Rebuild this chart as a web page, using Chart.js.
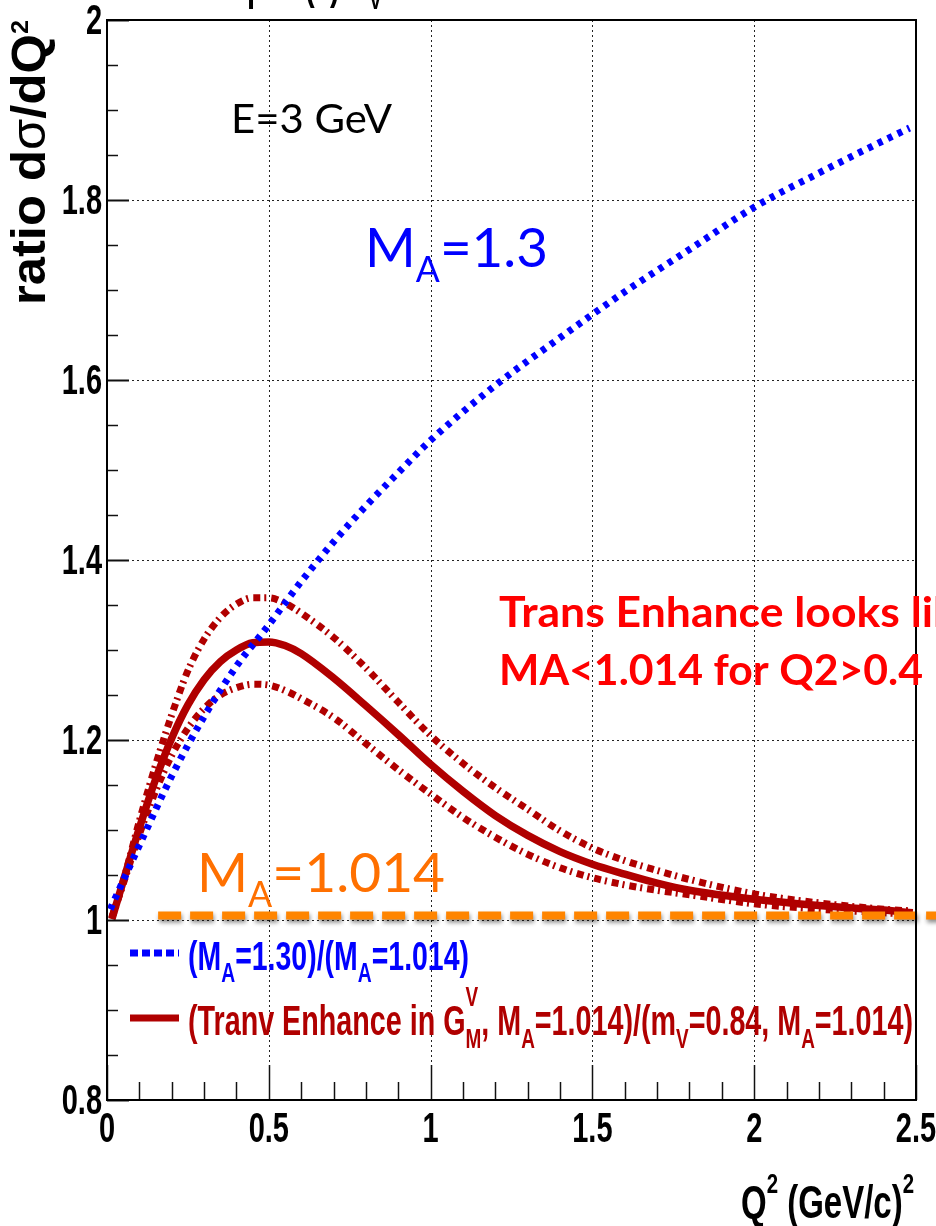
<!DOCTYPE html>
<html>
<head>
<meta charset="utf-8">
<script src="https://cdn.jsdelivr.net/npm/chart.js@4.4.1/dist/chart.umd.min.js"></script>
<style>
  html, body { margin: 0; padding: 0; background: #ffffff; overflow: hidden; }
  canvas { display: block; }
</style>
</head>
<body>
<canvas id="ratioChart" width="936" height="1226"></canvas>
<script>
// Ratio of dσ/dQ² at E = 3 GeV, relative to M_A = 1.014

// M_A = 1.30 over M_A = 1.014
const q2MA130 = [0.01, 0.1, 0.2, 0.3, 0.4, 0.5, 0.6, 0.7, 0.8, 0.9, 1.0, 1.2, 1.4, 1.6, 1.8, 2.0, 2.2, 2.4, 2.48];
const ratioMA130 = [1.012, 1.083, 1.160, 1.226, 1.282, 1.328, 1.376, 1.420, 1.460, 1.497, 1.533, 1.594, 1.647, 1.698, 1.745, 1.792, 1.830, 1.866, 1.880];

// transverse enhancement in G_M^V, central value and band edges
const q2Tranv = [0.015, 0.05, 0.1, 0.15, 0.2, 0.25, 0.3, 0.35, 0.4, 0.45, 0.5, 0.55, 0.6, 0.7, 0.8, 0.9, 1.0, 1.1, 1.2, 1.3, 1.4, 1.5, 1.6, 1.7, 1.8, 2.0, 2.2, 2.4, 2.49];
const ratioTranv = [1.001, 1.043, 1.102, 1.156, 1.202, 1.239, 1.267, 1.287, 1.300, 1.308, 1.309, 1.305, 1.296, 1.269, 1.238, 1.206, 1.173, 1.143, 1.116, 1.094, 1.076, 1.062, 1.051, 1.041, 1.033, 1.023, 1.016, 1.011, 1.008];
const ratioTranvUpper = [1.003, 1.043, 1.110, 1.172, 1.228, 1.277, 1.312, 1.336, 1.351, 1.358, 1.358, 1.352, 1.341, 1.314, 1.280, 1.242, 1.205, 1.174, 1.147, 1.123, 1.099, 1.080, 1.066, 1.055, 1.045, 1.029, 1.019, 1.012, 1.010];
const ratioTranvLower = [1.002, 1.040, 1.095, 1.143, 1.183, 1.213, 1.235, 1.250, 1.258, 1.262, 1.261, 1.255, 1.246, 1.225, 1.196, 1.167, 1.140, 1.114, 1.092, 1.073, 1.058, 1.047, 1.039, 1.033, 1.028, 1.018, 1.012, 1.008, 1.006];

// reference level M_A = 1.014
const q2MA1014 = [0.158, 2.62];
const ratioMA1014 = [1.005, 1.005];

// axis ticks
const xTickValues = [0, 0.5, 1, 1.5, 2, 2.5];
const xTickLabels = ['0', '0.5', '1', '1.5', '2', '2.5'];
const yTickValues = [0.8, 1, 1.2, 1.4, 1.6, 1.8, 2];
const yTickLabels = ['0.8', '1', '1.2', '1.4', '1.6', '1.8', '2'];
const xGridValues = [0.5, 1, 1.5, 2];
const yGridValues = [1, 1.2, 1.4, 1.6, 1.8];

const RED = '#b00000';
const BLUE = '#0000ff';
const ORANGE_LINE = '#ff8500';
const ORANGE_TEXT = '#ff7000';

const toXY = (xs, ys) => xs.map((x, i) => ({ x: x, y: ys[i] }));

// ---------- rich text (sub/superscripts, optional horizontal squeeze) ----------
function layoutRich(ctx, segs, o) {
  const fam = o.family;
  const items = [];
  let w = 0;
  for (const s of segs) {
    if (typeof s === 'string' || s.t !== undefined) {
      const t = typeof s === 'string' ? s : s.t;
      const wt = (typeof s === 'object' && s.weight) ? s.weight : o.weight;
      const font = `${wt} ${o.size}px ${fam}`;
      ctx.font = font;
      items.push({ t: t, x: w, dy: 0, font: font });
      w += ctx.measureText(t).width;
    } else {
      const small = o.size * (s.scale || o.subScale || 0.66);
      const font = `${o.weight} ${small}px ${fam}`;
      ctx.font = font;
      let mw = 0;
      if (s.sup !== undefined) {
        items.push({ t: s.sup, x: w, dy: -o.size * (s.rise !== undefined ? s.rise : (o.supRise || 0.45)), font: font });
        mw = Math.max(mw, ctx.measureText(s.sup).width);
      }
      if (s.sub !== undefined) {
        items.push({ t: s.sub, x: w, dy: o.size * (s.drop !== undefined ? s.drop : (o.subDrop || 0.3)), font: font });
        mw = Math.max(mw, ctx.measureText(s.sub).width);
      }
      w += mw;
    }
  }
  return { items: items, w: w };
}

function richScale(ctx, segs, o) {
  const lay = layoutRich(ctx, segs, o);
  return o.width / lay.w;
}

function drawRich(ctx, segs, o) {
  const lay = layoutRich(ctx, segs, o);
  const sx = o.width ? o.width / lay.w : (o.sx || 1);
  const total = lay.w * sx;
  let x0 = o.x;
  if (o.align === 'right') x0 = o.x - total;
  else if (o.align === 'center') x0 = o.x - total / 2;
  ctx.save();
  ctx.fillStyle = o.color;
  ctx.textAlign = 'left';
  ctx.textBaseline = 'alphabetic';
  ctx.translate(x0, o.y);
  if (o.rotate) ctx.rotate(o.rotate);
  ctx.scale(sx, 1);
  for (const it of lay.items) {
    ctx.font = it.font;
    ctx.fillText(it.t, it.x, it.dy);
  }
  ctx.restore();
}

// ---------- frame, grid, ticks, labels, legend and notes ----------
const LABEL_FONT = '"Liberation Sans", Arial, sans-serif';
const NOTE_FONT = 'Lato, "Open Sans", sans-serif';
const LABEL_SX = 0.69;

const rootStyle = {
  id: 'rootStyle',
  beforeDatasetsDraw(chart) {
    const ctx = chart.ctx;
    const xs = chart.scales.x, ys = chart.scales.y;
    const a = chart.chartArea;
    ctx.save();
    ctx.strokeStyle = '#222222';
    ctx.lineWidth = 1;
    ctx.setLineDash([2, 3]);
    for (const v of xGridValues) {
      const px = Math.round(xs.getPixelForValue(v)) + 0.5;
      ctx.beginPath(); ctx.moveTo(px, a.top); ctx.lineTo(px, a.bottom); ctx.stroke();
    }
    for (const v of yGridValues) {
      const py = Math.round(ys.getPixelForValue(v)) + 0.5;
      ctx.beginPath(); ctx.moveTo(a.left, py); ctx.lineTo(a.right, py); ctx.stroke();
    }
    ctx.restore();
  },
  beforeDatasetDraw(chart, args) {
    if (args.index === 0) {
      const ctx = chart.ctx;
      ctx.save();
      ctx.shadowColor = 'rgba(0,0,0,0.45)';
      ctx.shadowBlur = 4;
      ctx.shadowOffsetX = 1;
      ctx.shadowOffsetY = 3;
    }
  },
  afterDatasetDraw(chart, args) {
    if (args.index === 0) chart.ctx.restore();
  },
  afterDatasetsDraw(chart) {
    const ctx = chart.ctx;
    const xs = chart.scales.x, ys = chart.scales.y;
    const a = chart.chartArea;

    // ticks on the left and bottom axes, pointing inward
    ctx.save();
    ctx.strokeStyle = '#111111';
    for (let i = 0; i <= 24; i++) {
      const v = 0.8 + i * 0.05;
      const py = Math.round(ys.getPixelForValue(v)) + 0.5;
      const major = i % 4 === 0;
      ctx.lineWidth = major ? 2 : 1.5;
      ctx.beginPath(); ctx.moveTo(a.left, py); ctx.lineTo(a.left + (major ? 22 : 11), py); ctx.stroke();
    }
    for (let i = 0; i <= 25; i++) {
      const v = i * 0.1;
      const px = Math.round(xs.getPixelForValue(v)) + 0.5;
      const major = i % 5 === 0;
      ctx.lineWidth = 1.5;
      ctx.beginPath(); ctx.moveTo(px, a.bottom); ctx.lineTo(px, a.bottom - (major ? 35 : 18)); ctx.stroke();
    }
    // frame
    ctx.lineWidth = 2;
    ctx.strokeStyle = '#000000';
    ctx.strokeRect(a.left, a.top, a.right - a.left, a.bottom - a.top);
    ctx.restore();

    // tick labels
    yTickValues.forEach((v, i) => {
      drawRich(ctx, [yTickLabels[i]], {
        x: 102, y: ys.getPixelForValue(v) + 14, size: 42, family: LABEL_FONT,
        weight: 'bold', color: '#000', align: 'right', sx: LABEL_SX
      });
    });
    xTickValues.forEach((v, i) => {
      drawRich(ctx, [xTickLabels[i]], {
        x: xs.getPixelForValue(v), y: 1142, size: 42, family: LABEL_FONT,
        weight: 'bold', color: '#000', align: 'center', sx: LABEL_SX
      });
    });

    // axis titles
    drawRich(ctx, ['Q', { sup: '2', scale: 0.62, rise: 0.55 }, ' (GeV/c)', { sup: '2', scale: 0.62, rise: 0.55 }], {
      x: 914, y: 1218, size: 46, family: LABEL_FONT, weight: 'bold', color: '#000',
      align: 'right', width: 173
    });
    drawRich(ctx, ['ratio d', { t: 'σ', weight: 'normal' }, '/dQ', { sup: '2', scale: 0.5, rise: 0.36 }], {
      x: 45, y: 305, size: 48, family: LABEL_FONT, weight: 'bold', color: '#000',
      rotate: -Math.PI / 2, width: 285
    });

    // clipped title fragments at the top edge
    drawRich(ctx, ['p'], { x: 247, y: 0, size: 42, family: LABEL_FONT, weight: 'bold', color: '#000', sx: LABEL_SX });
    drawRich(ctx, ['('], { x: 305, y: -1, size: 42, family: LABEL_FONT, weight: 'bold', color: '#000', sx: LABEL_SX });
    drawRich(ctx, [')'], { x: 330, y: -1, size: 42, family: LABEL_FONT, weight: 'bold', color: '#000', sx: LABEL_SX });
    drawRich(ctx, ['V'], { x: 369, y: 9, size: 28, family: LABEL_FONT, weight: 'bold', color: '#000', sx: LABEL_SX });

    // legend
    const legendLine = (y, color, width, dash) => {
      ctx.save();
      ctx.strokeStyle = color; ctx.lineWidth = width; ctx.setLineDash(dash);
      ctx.lineCap = 'butt';
      ctx.beginPath(); ctx.moveTo(130, y); ctx.lineTo(179, y); ctx.stroke();
      ctx.restore();
    };
    legendLine(953, BLUE, 7, [8, 4]);
    legendLine(1018, RED, 7, []);
    drawRich(ctx, ['(M', { sub: 'A' }, '=1.30)/(M', { sub: 'A' }, '=1.014)'], {
      x: 188, y: 970, size: 41, family: LABEL_FONT, weight: 'bold', color: BLUE,
      width: 281, subScale: 0.68, subDrop: 0.3
    });
    drawRich(ctx, ['(Tranv Enhance in G', { sup: 'V', sub: 'M', rise: 0.7, drop: 0.3 }, ', M', { sub: 'A' },
      '=1.014)/(m', { sub: 'V' }, '=0.84, M', { sub: 'A' }, '=1.014)'], {
      x: 188, y: 1035, size: 42, family: LABEL_FONT, weight: 'bold', color: RED,
      width: 725, subScale: 0.66, subDrop: 0.3
    });

    // notes
    drawRich(ctx, ['E=3 GeV'], { x: 231, y: 133, size: 40, family: NOTE_FONT, weight: 'normal', color: '#000', width: 161 });
    drawRich(ctx, ['M', { sub: 'A', scale: 0.65, drop: 0.28 }, '=1.3'], {
      x: 365, y: 267, size: 55, family: NOTE_FONT, weight: 'normal', color: BLUE, width: 183
    });
    drawRich(ctx, ['M', { sub: 'A', scale: 0.65, drop: 0.28 }, '=1.014'], {
      x: 197, y: 892, size: 55, family: NOTE_FONT, weight: 'normal', color: ORANGE_TEXT, width: 248
    });
    const noteOpts = { x: 499, size: 42, family: NOTE_FONT, weight: 'bold', color: '#ff0000' };
    const sx1 = richScale(ctx, ['Trans Enhance looks li'], Object.assign({}, noteOpts, { width: 434 }));
    drawRich(ctx, ['Trans Enhance looks like'], Object.assign({}, noteOpts, { y: 627, sx: sx1 }));
    drawRich(ctx, ['MA<1.014 for Q2>0.4'], Object.assign({}, noteOpts, { y: 685, width: 424 }));
  }
};

new Chart(document.getElementById('ratioChart').getContext('2d'), {
  type: 'line',
  data: {
    datasets: [
      {
        label: 'M_A=1.014',
        data: toXY(q2MA1014, ratioMA1014),
        borderColor: ORANGE_LINE, borderWidth: 8, borderDash: [23, 9],
        clip: false
      },
      {
        label: '(M_A=1.30)/(M_A=1.014)',
        data: toXY(q2MA130, ratioMA130),
        borderColor: BLUE, borderWidth: 7, borderDash: [5, 6],
        cubicInterpolationMode: 'monotone'
      },
      {
        label: '(Tranv Enhance in G_M^V, M_A=1.014)/(m_V=0.84, M_A=1.014)',
        data: toXY(q2Tranv, ratioTranv),
        borderColor: RED, borderWidth: 7.5,
        cubicInterpolationMode: 'monotone'
      },
      {
        label: 'upper',
        data: toXY(q2Tranv, ratioTranvUpper),
        borderColor: RED, borderWidth: 7, borderDash: [7, 4, 2, 5],
        cubicInterpolationMode: 'monotone'
      },
      {
        label: 'lower',
        data: toXY(q2Tranv, ratioTranvLower),
        borderColor: RED, borderWidth: 7, borderDash: [7, 4, 2, 5],
        cubicInterpolationMode: 'monotone'
      }
    ]
  },
  options: {
    responsive: false,
    animation: false,
    devicePixelRatio: 1,
    layout: { padding: { left: 107, top: 20, right: 20, bottom: 126 } },
    elements: { point: { radius: 0, hoverRadius: 0 }, line: { fill: false, borderCapStyle: 'butt' } },
    scales: {
      x: { type: 'linear', min: 0, max: 2.5, display: false },
      y: { type: 'linear', min: 0.8, max: 2, display: false }
    },
    plugins: { legend: { display: false }, tooltip: { enabled: false } },
    events: []
  },
  plugins: [rootStyle]
});
</script>
</body>
</html>
